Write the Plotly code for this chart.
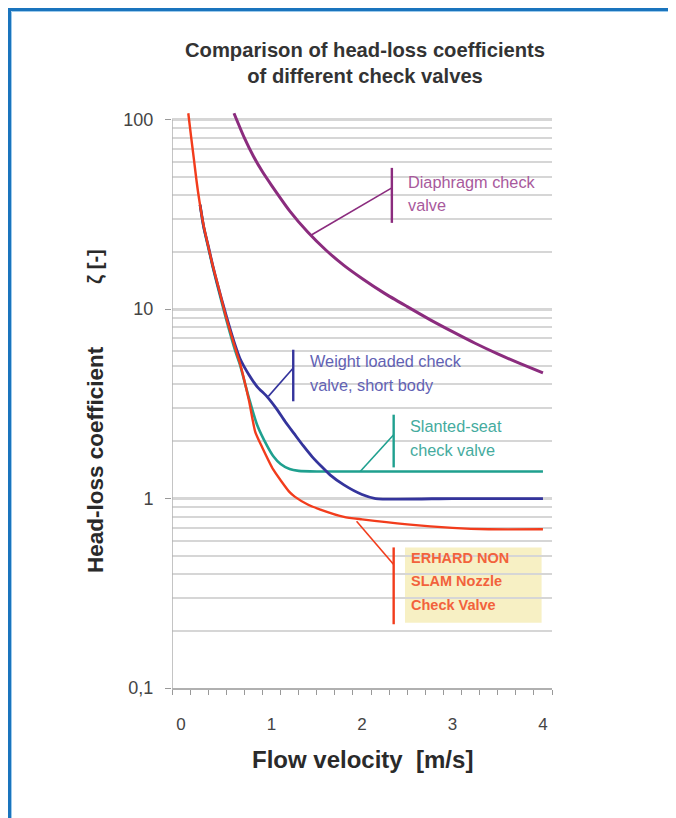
import math
import plotly.graph_objects as go

# ---- data ----
erhard_x = [0.08, 0.11, 0.14, 0.17, 0.2, 0.25, 0.3, 0.35, 0.4, 0.5, 0.6, 0.65, 0.75, 0.82, 0.9, 1.02, 1.1, 1.2, 1.26, 1.4, 1.54, 1.8, 2.0, 2.5, 3.0, 3.4, 4.0]
erhard_y = [108, 82, 63, 48, 38, 27.5, 21.5, 17, 13.8, 9.0, 6.2, 5.2, 3.3, 2.25, 1.85, 1.42, 1.25, 1.08, 1.02, 0.93, 0.875, 0.80, 0.776, 0.73, 0.70, 0.688, 0.688]

slanted_x = [0.21, 0.25, 0.3, 0.35, 0.4, 0.5, 0.6, 0.65, 0.75, 0.84, 0.95, 1.02, 1.1, 1.2, 1.3, 1.5, 2.0, 3.0, 4.0]
slanted_y = [35.5, 27, 21.2, 16.7, 13.4, 8.8, 6.0, 5.1, 3.4, 2.45, 1.9, 1.67, 1.52, 1.43, 1.40, 1.39, 1.39, 1.39, 1.39]

weight_x = [0.21, 0.25, 0.3, 0.35, 0.4, 0.5, 0.6, 0.65, 0.75, 0.84, 0.95, 1.05, 1.15, 1.25, 1.35, 1.45, 1.55, 1.65, 1.8, 2.0, 2.15, 3.0, 4.0]
weight_y = [35.5, 27.2, 21.6, 17, 13.7, 9.2, 6.4, 5.5, 4.5, 3.9, 3.45, 3.0, 2.55, 2.2, 1.9, 1.66, 1.48, 1.33, 1.18, 1.05, 1.0, 1.0, 1.0]

diaphragm_x = [0.585, 0.7, 0.8, 0.9, 1.0, 1.2, 1.4, 1.6, 1.8, 2.0, 2.25, 2.5, 2.75, 3.0, 3.25, 3.5, 3.75, 4.0]
diaphragm_y = [108, 80, 64, 53, 45, 33, 25.5, 20.5, 17, 14.5, 12.1, 10.3, 8.8, 7.6, 6.6, 5.8, 5.15, 4.6]

x_tick_vals = [0, 1, 2, 3, 4]
x_tick_text = ["0", "1", "2", "3", "4"]
y_tick_vals = [0.1, 1, 10, 100]
y_tick_text = ["0,1", "1", "10", "100"]

title_text = "Comparison of head-loss coefficients<br>of different check valves"

# ---- styles ----
C_PURPLE = "#8b2c7e"
C_PURPLE_T = "#a8599c"
C_BLUE = "#34349c"
C_BLUE_T = "#6262b4"
C_TEAL = "#1fa08f"
C_TEAL_T = "#45ab9e"
C_RED = "#f23c1c"
C_RED_T = "#f2623c"
C_GRID = "#d6d6d6"
FONT = "Liberation Sans, Arial, sans-serif"

fig = go.Figure()
fig.add_trace(go.Scatter(x=slanted_x, y=slanted_y, mode="lines",
                         line=dict(color=C_TEAL, width=2.6, shape="spline", smoothing=0.6)))
fig.add_trace(go.Scatter(x=weight_x, y=weight_y, mode="lines",
                         line=dict(color=C_BLUE, width=2.8, shape="spline", smoothing=0.6)))
fig.add_trace(go.Scatter(x=erhard_x, y=erhard_y, mode="lines",
                         line=dict(color=C_RED, width=2.4, shape="spline", smoothing=0.6)))
fig.add_trace(go.Scatter(x=diaphragm_x, y=diaphragm_y, mode="lines",
                         line=dict(color=C_PURPLE, width=3, shape="spline", smoothing=0.6)))

minor_y = [m * 10 ** e for e in (-1, 0, 1) for m in range(2, 10)]
minor_x = [round(-0.1 + 0.2 * i, 2) for i in range(22)]

shapes = []
def callout(x0, y0, xb, yj, ylo, yhi, color):
    shapes.append(dict(type="line", xref="x", yref="y", x0=x0, y0=y0, x1=xb, y1=yj,
                       line=dict(color=color, width=1.6), layer="above"))
    shapes.append(dict(type="line", xref="x", yref="y", x0=xb, y0=ylo, x1=xb, y1=yhi,
                       line=dict(color=color, width=2.4), layer="above"))

shapes.append(dict(type="rect", xref="x", yref="y", x0=2.475, x1=3.985, y0=0.221, y1=0.552,
                   fillcolor="#f7f0c4", line=dict(width=0), layer="below"))
callout(1.44, 24.6, 2.33, 43.6, 28.5, 55.6, C_PURPLE)
callout(0.965, 3.46, 1.24, 4.89, 3.26, 6.1, C_BLUE)
callout(1.98, 1.39, 2.35, 2.17, 1.46, 2.77, C_TEAL)
callout(1.94, 0.759, 2.35, 0.449, 0.217, 0.552, C_RED)

shapes.append(dict(type="line", xref="x", yref="y", x0=-0.1, x1=-0.1, y0=0.1, y1=100,
                   line=dict(color="#b0b0b0", width=1.5), layer="above"))

# page-pixel -> paper helpers (page has an 8px body margin)
pw, ph = 380.0, 576.0
def px(p):
    return (p - 172) / pw
def py(p):
    return (688 - p) / ph
# blue frame (dark outer line + light inner line)
shapes.append(dict(type="line", xref="paper", yref="paper", x0=px(8), x1=px(700), y0=py(9.5), y1=py(9.5),
                   line=dict(color="#1a74bd", width=3)))
shapes.append(dict(type="line", xref="paper", yref="paper", x0=px(9.5), x1=px(9.5), y0=py(8), y1=py(840),
                   line=dict(color="#1a74bd", width=3)))
shapes.append(dict(type="line", xref="paper", yref="paper", x0=px(11.5), x1=px(700), y0=py(11.5), y1=py(11.5),
                   line=dict(color="#9ccaec", width=1)))
shapes.append(dict(type="line", xref="paper", yref="paper", x0=px(11.5), x1=px(11.5), y0=py(11.5), y1=py(840),
                   line=dict(color="#9ccaec", width=1)))

annotations = []
def label(x, y, text, color, bold=False, size=16.3):
    annotations.append(dict(x=x, y=math.log10(y), xref="x", yref="y", text=text,
                            showarrow=False, xanchor="left", yanchor="middle",
                            font=dict(family=FONT, size=size, color=color,
                                      weight="bold" if bold else "normal")))

label(2.49, 46.9, "Diaphragm check", C_PURPLE_T)
label(2.49, 35.5, "valve", C_PURPLE_T)
label(1.40, 5.29, "Weight loaded check", C_BLUE_T)
label(1.40, 3.99, "valve, short body", C_BLUE_T)
label(2.51, 2.40, "Slanted-seat", C_TEAL_T)
label(2.51, 1.81, "check valve", C_TEAL_T)
label(2.52, 0.483, "ERHARD NON", C_RED_T, bold=True, size=14.5)
label(2.52, 0.365, "SLAM Nozzle", C_RED_T, bold=True, size=14.5)
label(2.52, 0.273, "Check Valve", C_RED_T, bold=True, size=14.5)

annotations.append(dict(x=px(365), y=py(63), xref="paper", yref="paper", text=title_text,
                        showarrow=False, xanchor="center", yanchor="middle",
                        font=dict(family=FONT, size=20.2, color="#333333", weight="bold")))
annotations.append(dict(x=px(362), y=py(759), xref="paper", yref="paper",
                        text="Flow velocity  [m/s]", showarrow=False,
                        xanchor="center", yanchor="middle",
                        font=dict(family=FONT, size=24, color="#2a2a2a", weight="bold")))
annotations.append(dict(x=px(95), y=py(460), xref="paper", yref="paper",
                        text="Head-loss coefficient", showarrow=False, textangle=-90,
                        xanchor="center", yanchor="middle",
                        font=dict(family=FONT, size=22.5, color="#2a2a2a", weight="bold")))
annotations.append(dict(x=px(95), y=py(267), xref="paper", yref="paper",
                        text="ζ [-]", showarrow=False, textangle=-90,
                        xanchor="center", yanchor="middle",
                        font=dict(family=FONT, size=20, color="#2a2a2a", weight="bold")))

fig.update_layout(
    width=676, height=818,
    margin=dict(l=164, r=132, t=104, b=138),
    paper_bgcolor="white", plot_bgcolor="white",
    showlegend=False,
    shapes=shapes,
    annotations=annotations,
    xaxis=dict(range=[-0.1, 4.1], tickvals=x_tick_vals, ticktext=x_tick_text,
               ticks="", showgrid=False, zeroline=False,
               showline=True, linecolor="#b0b0b0", linewidth=2,
               tickfont=dict(family=FONT, size=17, color="#444444"),
               ticklabelstandoff=20,
               minor=dict(tickvals=minor_x, ticks="outside", ticklen=5, tickcolor="#999999",
                          showgrid=False)),
    yaxis=dict(type="log", range=[-1, 2.04], tickvals=y_tick_vals, ticktext=y_tick_text,
               ticks="outside", ticklen=6, tickcolor="#999999",
               showgrid=True, gridcolor=C_GRID, gridwidth=3, zeroline=False, showline=False,
               tickfont=dict(family=FONT, size=18, color="#444444"),
               ticklabelstandoff=8,
               minor=dict(tickvals=minor_y, ticks="", showgrid=True, gridcolor=C_GRID, gridwidth=1.6)),
)

fig.write_html("out.html")
